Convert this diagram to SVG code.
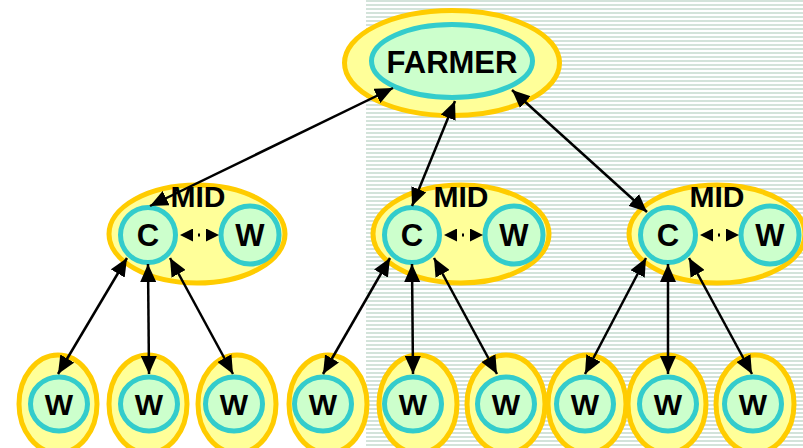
<svg xmlns="http://www.w3.org/2000/svg" width="803" height="448" viewBox="0 0 803 448">
<style>
.o{fill:#FFFF99;stroke:#FFCC00;stroke-width:5}
.i{fill:#CCFFCC;stroke:#33CCCC;stroke-width:5}
.t{font-family:"Liberation Sans",Arial,sans-serif;font-weight:bold;fill:#000;text-anchor:middle}
.c{stroke:#000;stroke-width:2.5;fill:none;marker-start:url(#ah);marker-end:url(#ah)}
.s{stroke:#000;stroke-width:3;fill:none;stroke-dasharray:0 18 2 100;marker-start:url(#sh);marker-end:url(#sh)}
</style>
<defs>
<pattern id="stripes" x="0" y="0" width="8" height="4" patternUnits="userSpaceOnUse">
<rect width="8" height="4" fill="#FFFFFF"/>
<rect y="0" width="8" height="2" fill="#D3E3DA"/>
</pattern>
<marker id="ah" markerUnits="userSpaceOnUse" markerWidth="19" markerHeight="16" refX="18" refY="8" orient="auto-start-reverse">
<path d="M0,0 L18,8 L0,16 z" fill="#000"/>
</marker>
<marker id="sh" markerUnits="userSpaceOnUse" markerWidth="14" markerHeight="13" refX="13" refY="6.5" orient="auto-start-reverse">
<path d="M0,0 L13,6.5 L0,13 z" fill="#000"/>
</marker>
</defs>
<rect x="0" y="0" width="803" height="448" fill="#FFFFFF"/>
<rect x="366" y="0" width="437" height="448" fill="url(#stripes)"/>

<g id="farmer">
<ellipse class="o" cx="452" cy="63" rx="107.5" ry="52.5"/>
<ellipse class="i" cx="452" cy="61" rx="80.5" ry="36.5"/>
<text class="t" x="452" y="73" font-size="31">FARMER</text>
</g>

<g id="mid1">
<ellipse class="o" cx="197" cy="234" rx="88" ry="49"/>
<circle class="i" cx="148" cy="235" r="27.5"/>
<circle class="i" cx="250" cy="235" r="29"/>
<text class="t" x="198" y="207" font-size="30">MID</text>
<text class="t" x="148" y="246" font-size="31">C</text>
<text class="t" x="250" y="246" font-size="31">W</text>
</g>
<g id="mid2">
<ellipse class="o" cx="461" cy="234" rx="88" ry="49"/>
<circle class="i" cx="412" cy="235" r="27.5"/>
<circle class="i" cx="514" cy="235" r="29"/>
<text class="t" x="461" y="207" font-size="30">MID</text>
<text class="t" x="412" y="246" font-size="31">C</text>
<text class="t" x="514" y="246" font-size="31">W</text>
</g>
<g id="mid3">
<ellipse class="o" cx="717" cy="234" rx="88" ry="49"/>
<circle class="i" cx="668" cy="235" r="27.5"/>
<circle class="i" cx="770" cy="235" r="29"/>
<text class="t" x="717" y="207" font-size="30">MID</text>
<text class="t" x="668" y="246" font-size="31">C</text>
<text class="t" x="770" y="246" font-size="31">W</text>
</g>

<g id="leaf1"><ellipse class="o" cx="58" cy="404" rx="39" ry="49"/><ellipse class="i" cx="59" cy="404" rx="28.5" ry="27"/><text class="t" x="59" y="415" font-size="30">W</text></g>
<g id="leaf2"><ellipse class="o" cx="148" cy="404" rx="39" ry="49"/><ellipse class="i" cx="149" cy="404" rx="28.5" ry="27"/><text class="t" x="149" y="415" font-size="30">W</text></g>
<g id="leaf3"><ellipse class="o" cx="237" cy="404" rx="39" ry="49"/><ellipse class="i" cx="234" cy="404" rx="28.5" ry="27"/><text class="t" x="234" y="415" font-size="30">W</text></g>
<g id="leaf4"><ellipse class="o" cx="328" cy="404" rx="39" ry="49"/><ellipse class="i" cx="323" cy="404" rx="28.5" ry="27"/><text class="t" x="323" y="415" font-size="30">W</text></g>
<g id="leaf5"><ellipse class="o" cx="418" cy="404" rx="39" ry="49"/><ellipse class="i" cx="413" cy="404" rx="28.5" ry="27"/><text class="t" x="413" y="415" font-size="30">W</text></g>
<g id="leaf6"><ellipse class="o" cx="506" cy="404" rx="39" ry="49"/><ellipse class="i" cx="506" cy="404" rx="28.5" ry="27"/><text class="t" x="506" y="415" font-size="30">W</text></g>
<g id="leaf7"><ellipse class="o" cx="587" cy="404" rx="39" ry="49"/><ellipse class="i" cx="585" cy="404" rx="28.5" ry="27"/><text class="t" x="585" y="415" font-size="30">W</text></g>
<g id="leaf8"><ellipse class="o" cx="667" cy="404" rx="39" ry="49"/><ellipse class="i" cx="668" cy="404" rx="28.5" ry="27"/><text class="t" x="668" y="415" font-size="30">W</text></g>
<g id="leaf9"><ellipse class="o" cx="755" cy="404" rx="39" ry="49"/><ellipse class="i" cx="753" cy="404" rx="28.5" ry="27"/><text class="t" x="753" y="415" font-size="30">W</text></g>

<g id="connectors">
<line class="c" x1="393" y1="88" x2="150" y2="206"/>
<line class="c" x1="455" y1="101" x2="412" y2="206"/>
<line class="c" x1="512" y1="90" x2="647" y2="212"/>
<line class="s" x1="180" y1="235" x2="219" y2="235"/>
<line class="s" x1="444" y1="235" x2="483" y2="235"/>
<line class="s" x1="700" y1="235" x2="739" y2="235"/>
<line class="c" x1="127" y1="258" x2="58" y2="374"/>
<line class="c" x1="148" y1="264" x2="149" y2="374"/>
<line class="c" x1="170" y1="258" x2="233" y2="374"/>
<line class="c" x1="390" y1="258" x2="323" y2="374"/>
<line class="c" x1="412" y1="264" x2="413" y2="374"/>
<line class="c" x1="434" y1="258" x2="497" y2="374"/>
<line class="c" x1="646" y1="258" x2="585" y2="374"/>
<line class="c" x1="668" y1="264" x2="668" y2="374"/>
<line class="c" x1="689" y1="258" x2="752" y2="374"/>
</g>
</svg>
